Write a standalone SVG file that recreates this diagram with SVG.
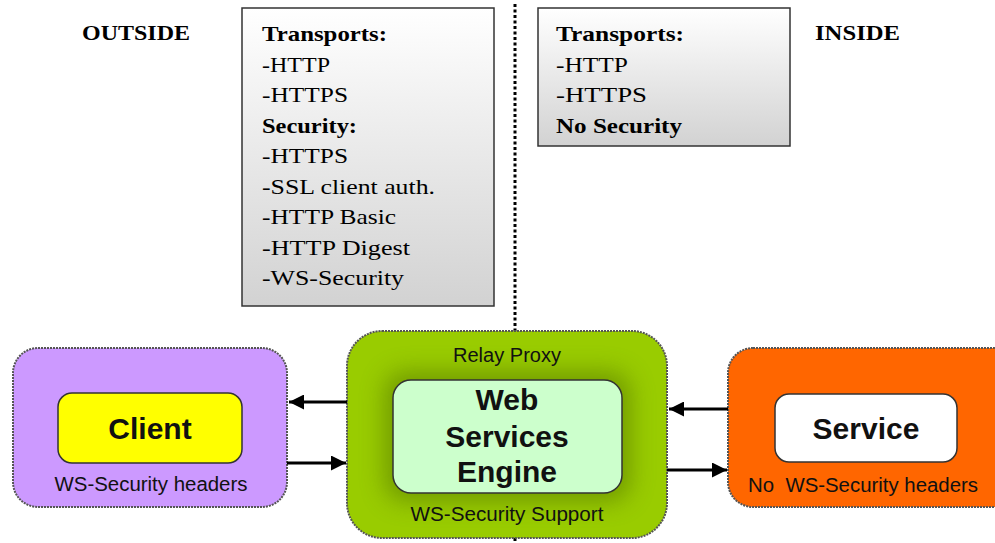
<svg xmlns="http://www.w3.org/2000/svg" width="995" height="543" viewBox="0 0 995 543">
<defs>
<linearGradient id="gray" x1="0" y1="0" x2="0" y2="1">
<stop offset="0" stop-color="#ffffff"/>
<stop offset="1" stop-color="#d2d2d2"/>
</linearGradient>
<filter id="blur" x="-30%" y="-30%" width="160%" height="160%">
<feGaussianBlur stdDeviation="12"/>
</filter>
<marker id="ah" viewBox="0 0 10 10" refX="10" refY="5" markerWidth="5" markerHeight="5" orient="auto" markerUnits="strokeWidth">
<path d="M0,0 L10,5 L0,10 z" fill="#000"/>
</marker>
<clipPath id="greenClip"><rect x="347" y="331" width="320" height="207" rx="35"/></clipPath>
</defs>
<style>
.serif{font-family:"Liberation Serif","Times New Roman",serif;fill:#000;font-size:22px}
.b{font-weight:bold}
.sans{font-family:"Liberation Sans",Arial,sans-serif;fill:#111}
.lbl{font-size:20px}
.big{font-size:30px;font-weight:bold}
.outer{stroke:#555;stroke-width:2;stroke-dasharray:2 1}
.inner{stroke:#333;stroke-width:1.5}
.gbox{fill:url(#gray);stroke:#333;stroke-width:1.5}
.arr{stroke:#000;stroke-width:3;fill:none;marker-end:url(#ah)}
.divider{stroke:#000;stroke-width:3;stroke-dasharray:3 2.5}
</style>
<rect width="995" height="543" fill="#fff"/>

<g id="divider">
<line class="divider" x1="515" y1="4" x2="515" y2="331"/>
<line class="divider" x1="515" y1="538" x2="515" y2="543"/>
</g>

<g id="label-outside">
<text class="serif b" x="82" y="40" textLength="108" lengthAdjust="spacingAndGlyphs">OUTSIDE</text>
</g>
<g id="label-inside">
<text class="serif b" x="815" y="40" textLength="85" lengthAdjust="spacingAndGlyphs">INSIDE</text>
</g>

<g id="outside-box">
<rect class="gbox" x="242" y="8" width="252" height="298"/>
<text class="serif b" x="262" y="41" textLength="125" lengthAdjust="spacingAndGlyphs">Transports:</text>
<text class="serif" x="262" y="71.5" textLength="68" lengthAdjust="spacingAndGlyphs">-HTTP</text>
<text class="serif" x="262" y="102" textLength="86" lengthAdjust="spacingAndGlyphs">-HTTPS</text>
<text class="serif b" x="262" y="132.5" textLength="95" lengthAdjust="spacingAndGlyphs">Security:</text>
<text class="serif" x="262" y="163" textLength="86" lengthAdjust="spacingAndGlyphs">-HTTPS</text>
<text class="serif" x="262" y="193.5" textLength="173" lengthAdjust="spacingAndGlyphs">-SSL client auth.</text>
<text class="serif" x="262" y="224" textLength="134" lengthAdjust="spacingAndGlyphs">-HTTP Basic</text>
<text class="serif" x="262" y="254.5" textLength="148" lengthAdjust="spacingAndGlyphs">-HTTP Digest</text>
<text class="serif" x="262" y="285" textLength="142" lengthAdjust="spacingAndGlyphs">-WS-Security</text>
</g>

<g id="inside-box">
<rect class="gbox" x="538" y="8" width="252" height="138"/>
<text class="serif b" x="556" y="41" textLength="128" lengthAdjust="spacingAndGlyphs">Transports:</text>
<text class="serif" x="556" y="71.5" textLength="72" lengthAdjust="spacingAndGlyphs">-HTTP</text>
<text class="serif" x="556" y="102" textLength="91" lengthAdjust="spacingAndGlyphs">-HTTPS</text>
<text class="serif b" x="556" y="132.5" textLength="126" lengthAdjust="spacingAndGlyphs">No Security</text>
</g>

<g id="client">
<rect class="outer" x="13" y="348" width="274" height="159" rx="25" fill="#cc99ff"/>
<rect class="inner" x="58" y="393" width="184" height="70" rx="14" fill="#ffff00"/>
<text class="sans big" x="150" y="439" text-anchor="middle">Client</text>
<text class="sans lbl" x="151" y="491" text-anchor="middle" textLength="193" lengthAdjust="spacingAndGlyphs">WS-Security headers</text>
</g>

<g id="relay-proxy">
<rect class="outer" x="347" y="331" width="320" height="207" rx="35" fill="#99cc00"/>
<g clip-path="url(#greenClip)">
<rect x="385" y="372" width="245" height="129" rx="20" fill="#4f6f00" opacity="0.55" filter="url(#blur)"/>
</g>
<rect class="inner" x="393" y="380" width="229" height="113" rx="18" fill="#ccffcc"/>
<text class="sans lbl" x="507" y="362" text-anchor="middle" textLength="108" lengthAdjust="spacingAndGlyphs">Relay Proxy</text>
<text class="sans big" x="507" y="410" text-anchor="middle">Web</text>
<text class="sans big" x="507" y="447" text-anchor="middle">Services</text>
<text class="sans big" x="507" y="482" text-anchor="middle">Engine</text>
<text class="sans lbl" x="507" y="521" text-anchor="middle" textLength="193" lengthAdjust="spacingAndGlyphs">WS-Security Support</text>
</g>

<g id="service">
<rect class="outer" x="728" y="348" width="290" height="159" rx="25" fill="#ff6600"/>
<rect class="inner" x="775" y="394" width="182" height="68" rx="14" fill="#ffffff"/>
<text class="sans big" x="866" y="439" text-anchor="middle">Service</text>
<text class="sans lbl" x="748" y="492" xml:space="preserve" textLength="230" lengthAdjust="spacingAndGlyphs">No  WS-Security headers</text>
</g>

<g id="connectors">
<line class="arr" x1="347" y1="402" x2="289" y2="402"/>
<line class="arr" x1="287" y1="463" x2="346" y2="463"/>
<line class="arr" x1="728" y1="409" x2="669" y2="409"/>
<line class="arr" x1="667" y1="470" x2="727" y2="470"/>
</g>
</svg>
